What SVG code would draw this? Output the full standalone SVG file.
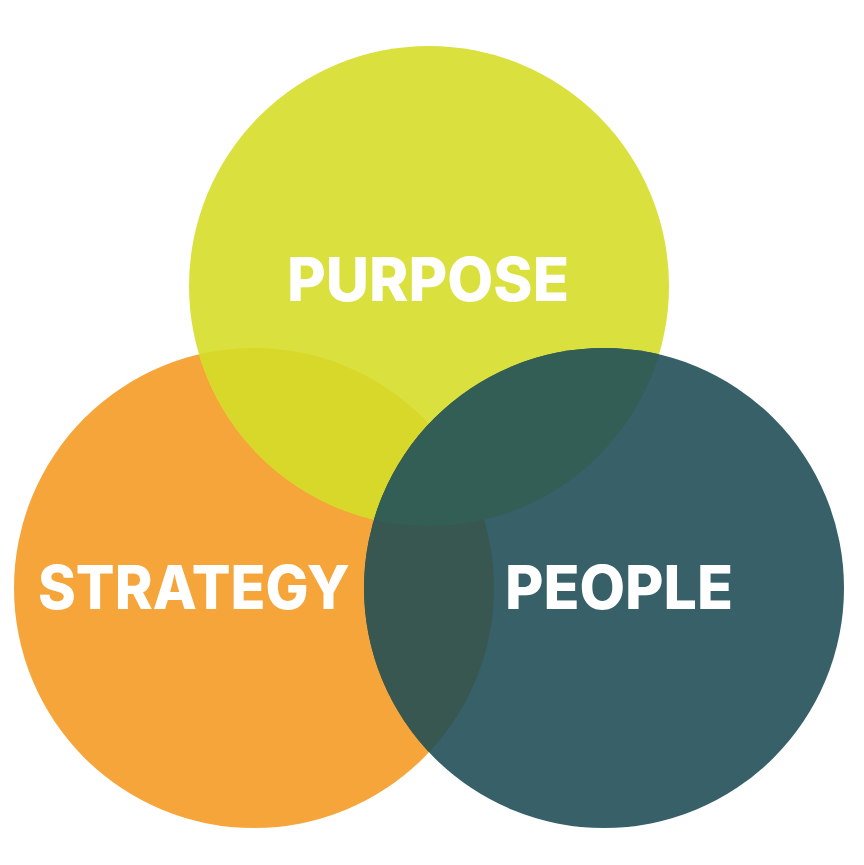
<svg xmlns="http://www.w3.org/2000/svg" width="864" height="865" viewBox="0 0 864 865">
<defs>
<clipPath id="clipStrategy"><circle cx="254" cy="588" r="240"/></clipPath>
<clipPath id="clipPurpose"><circle cx="429" cy="286" r="240"/></clipPath>
<style>
.lbl{font-family:Inter,"Liberation Sans",sans-serif;font-weight:800;font-size:60px;fill:#ffffff;}
</style>
</defs>
<rect width="864" height="865" fill="#ffffff"/>
<g id="strategy"><circle cx="254" cy="588" r="240" fill="#F6A53A"/></g>
<g id="purpose"><circle cx="429" cy="286" r="240" fill="#DAE13E"/>
<circle cx="429" cy="286" r="240" fill="#D8D82A" clip-path="url(#clipStrategy)"/></g>
<g id="people"><circle cx="604" cy="588" r="240" fill="#376068"/>
<circle cx="604" cy="588" r="240" fill="#385750" clip-path="url(#clipStrategy)"/>
<circle cx="604" cy="588" r="240" fill="#335E55" clip-path="url(#clipPurpose)"/></g>
<g id="labels">
<text class="lbl" x="428" y="301" text-anchor="middle" textLength="282" lengthAdjust="spacingAndGlyphs">PURPOSE</text>
<text class="lbl" x="194" y="609" text-anchor="middle" textLength="312" lengthAdjust="spacingAndGlyphs">STRATEGY</text>
<text class="lbl" x="619" y="609" text-anchor="middle" textLength="228" lengthAdjust="spacingAndGlyphs">PEOPLE</text>
</g>
</svg>
